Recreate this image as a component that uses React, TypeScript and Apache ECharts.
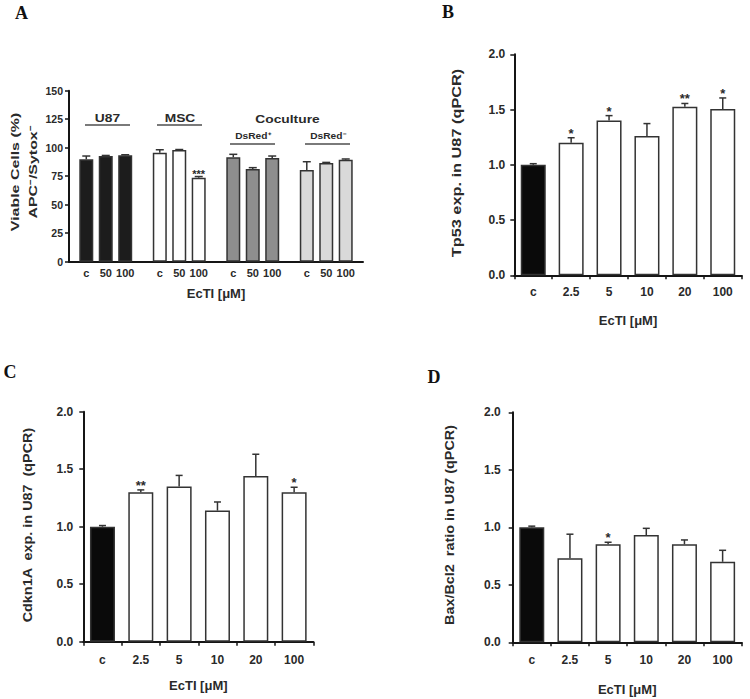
import React, { useEffect, useRef } from 'react';
import * as echarts from 'echarts';

// ---------- Panel A: viable cells ----------
const groupsA = ['U87', 'MSC', 'DsRed+', 'DsRed-'];
const dosesA = ['c', '50', '100'];
const viableC = [89.8, 95.6, 91.6, 80.4];
const viable50 = [92.7, 98.0, 81.3, 86.6];
const viable100 = [93.3, 73.7, 91.0, 89.5];
const viableErrC = [2.9, 2.6, 2.6, 7.3];
const viableErr50 = [0.5, 0.4, 1.2, 0.5];
const viableErr100 = [0.5, 1.0, 1.7, 0.6];
const viableStarsC = ['', '', '', ''];
const viableStars50 = ['', '', '', ''];
const viableStars100 = ['', '***', '', ''];
const yTicksA = { min: 0, max: 150, interval: 25 };

// ---------- Panels B-D: qPCR ----------
const dosesQ = ['c', '2.5', '5', '10', '20', '100'];
const tp53 = [1.0, 1.2, 1.4, 1.26, 1.525, 1.505];
const tp53Err = [0.01, 0.045, 0.045, 0.113, 0.03, 0.1];
const tp53Stars = ['', '*', '*', '', '**', '*'];
const cdkn1a = [1.0, 1.3, 1.35, 1.14, 1.44, 1.3];
const cdkn1aErr = [0.01, 0.02, 0.096, 0.075, 0.19, 0.043];
const cdkn1aStars = ['', '**', '', '', '', '*'];
const baxBcl2 = [1.0, 0.73, 0.852, 0.933, 0.852, 0.7];
const baxBcl2Err = [0.01, 0.21, 0.018, 0.058, 0.038, 0.1];
const baxBcl2Stars = ['', '', '*', '', '', ''];
const yTicksQ = { min: 0, max: 2, interval: 0.5 };

const FONT = "'Liberation Sans', Arial, Helvetica, sans-serif";
const SERIF = "'Liberation Serif', 'Times New Roman', serif";
const TEXT = '#2a2a2a';
const AXIS = '#151515';
const BORDER = '#333';
const groupColorsA = ['#1c1c1c', '#ffffff', '#8e8e8e', '#d9d9d9'];
const BAR_W_A = 14;
const GAP_A = 0.39;

function errorRenderer(offset: number, errs: number[], stars: string[], starSize: number, capHalf: number, starDy: number) {
  return (params: any, api: any) => {
    const idx = params.dataIndex;
    const cat = api.value(0);
    const v = api.value(1);
    const e = errs[idx];
    const p0 = api.coord([cat, v]);
    const p1 = api.coord([cat, v + e]);
    const x = p0[0] + offset;
    const children: any[] = [
      { type: 'line', shape: { x1: x, y1: p0[1], x2: x, y2: p1[1] }, style: { stroke: BORDER, lineWidth: 1.5 } },
      { type: 'line', shape: { x1: x - capHalf, y1: p1[1], x2: x + capHalf, y2: p1[1] }, style: { stroke: BORDER, lineWidth: 1.5 } },
    ];
    if (stars[idx]) {
      children.push({
        type: 'text',
        x,
        y: p1[1] + starDy,
        style: { text: stars[idx], fill: TEXT, font: `bold ${starSize}px ${FONT}`, align: 'center', verticalAlign: 'bottom' },
      });
    }
    return { type: 'group', children };
  };
}

function yAxisCommon(gridIndex: number, ticks: any, fontSize: number, margin: number, fmt?: (v: number) => string) {
  return {
    type: 'value',
    gridIndex,
    min: ticks.min,
    max: ticks.max,
    interval: ticks.interval,
    splitLine: { show: false },
    axisLine: { show: true, lineStyle: { color: AXIS, width: 2 } },
    axisTick: { show: true, length: 4, lineStyle: { color: AXIS, width: 1.5 } },
    axisLabel: {
      fontSize,
      fontWeight: 'bold',
      fontFamily: FONT,
      color: TEXT,
      margin,
      formatter: fmt ? fmt : (v: number) => String(v),
    },
  };
}

function xAxisQ(gridIndex: number, nameGap: number, margin: number) {
  return {
    type: 'category',
    gridIndex,
    data: dosesQ,
    axisLine: { show: true, lineStyle: { color: AXIS, width: 2 } },
    axisTick: { show: true, length: 4, lineStyle: { color: AXIS, width: 1.5 } },
    axisLabel: { fontSize: 12, fontWeight: 'bold', fontFamily: FONT, color: TEXT, margin },
    name: 'EcTI [μM]',
    nameLocation: 'middle',
    nameGap,
    nameTextStyle: { fontSize: 13, fontWeight: 'bold', fontFamily: FONT, color: TEXT },
  };
}

function qBarSeries(idx: number, vals: number[]) {
  return {
    type: 'bar',
    xAxisIndex: idx,
    yAxisIndex: idx,
    barWidth: 25,
    data: vals.map((v, i) => ({ value: v, itemStyle: { color: i === 0 ? '#0a0a0a' : '#ffffff' } })),
    itemStyle: { borderColor: BORDER, borderWidth: 1.5 },
    z: 2,
  };
}

function qErrSeries(idx: number, vals: number[], errs: number[], stars: string[]) {
  return {
    type: 'custom',
    xAxisIndex: idx,
    yAxisIndex: idx,
    renderItem: errorRenderer(0, errs, stars, 13, 3.5, 2),
    data: vals.map((v, i) => [i, v]),
    z: 3,
  };
}

function yName(text: string, x: number, y: number, fontSize: number, scaleX: number) {
  return {
    type: 'text',
    x,
    y,
    rotation: Math.PI / 2,
    scaleX,
    scaleY: 1,
    style: { text, fill: TEXT, font: `bold ${fontSize}px ${FONT}`, align: 'center', verticalAlign: 'middle', lineHeight: 18 },
  };
}

function letter(text: string, x: number, y: number) {
  return {
    type: 'text',
    x,
    y,
    style: { text, fill: '#111', font: `bold 18px ${SERIF}`, align: 'center', verticalAlign: 'middle' },
  };
}

function groupLabel(text: string, x: number, y: number, fontSize: number, scaleX: number) {
  return {
    type: 'text',
    x,
    y,
    scaleX,
    style: { text, fill: TEXT, font: `bold ${fontSize}px ${FONT}`, align: 'center', verticalAlign: 'middle' },
  };
}

function groupLine(x1: number, x2: number, y: number) {
  return { type: 'line', shape: { x1, y1: y, x2, y2: y }, style: { stroke: '#7a7a7a', lineWidth: 2 } };
}

function buildOption() {
  const valsA = [viableC, viable50, viable100];
  const errsA = [viableErrC, viableErr50, viableErr100];
  const starsA = [viableStarsC, viableStars50, viableStars100];
  const stepA = BAR_W_A * (1 + GAP_A);

  const seriesA: any[] = [];
  valsA.forEach((vals, k) => {
    seriesA.push({
      type: 'bar',
      name: dosesA[k],
      xAxisIndex: 0,
      yAxisIndex: 0,
      barWidth: BAR_W_A,
      barGap: `${GAP_A * 100}%`,
      data: vals.map((v, g) => ({ value: v, itemStyle: { color: groupColorsA[g] } })),
      itemStyle: { borderColor: BORDER, borderWidth: 1.5 },
      label: {
        show: true,
        position: 'bottom',
        distance: 6,
        formatter: dosesA[k],
        fontSize: 11,
        fontWeight: 'bold',
        fontFamily: FONT,
        color: TEXT,
      },
      z: 2,
    });
  });
  valsA.forEach((vals, k) => {
    seriesA.push({
      type: 'custom',
      xAxisIndex: 0,
      yAxisIndex: 0,
      renderItem: errorRenderer((k - 1) * stepA, errsA[k], starsA[k], 11, 4, 3),
      data: vals.map((v, i) => [i, v]),
      z: 3,
    });
  });

  return {
    animation: false,
    backgroundColor: '#ffffff',
    grid: [
      { left: 69, top: 90.7, width: 294, height: 171 },
      { left: 514.3, top: 54.3, width: 227.4, height: 221 },
      { left: 83.3, top: 411.7, width: 230, height: 230 },
      { left: 512.7, top: 412.3, width: 229, height: 230 },
    ],
    xAxis: [
      {
        type: 'category',
        gridIndex: 0,
        data: groupsA,
        axisLine: { show: true, lineStyle: { color: AXIS, width: 2 } },
        axisTick: { show: false },
        axisLabel: { show: false },
        name: 'EcTI [μM]',
        nameLocation: 'middle',
        nameGap: 25,
        nameTextStyle: { fontSize: 13, fontWeight: 'bold', fontFamily: FONT, color: TEXT },
      },
      xAxisQ(1, 39, 11),
      xAxisQ(2, 37, 12),
      xAxisQ(3, 41, 12),
    ],
    yAxis: [
      yAxisCommon(0, yTicksA, 10.5, 6),
      yAxisCommon(1, yTicksQ, 12, 9, (v: number) => v.toFixed(1)),
      yAxisCommon(2, yTicksQ, 12, 10, (v: number) => v.toFixed(1)),
      yAxisCommon(3, yTicksQ, 12, 12, (v: number) => v.toFixed(1)),
    ],
    series: [
      ...seriesA,
      qBarSeries(1, tp53),
      qErrSeries(1, tp53, tp53Err, tp53Stars),
      qBarSeries(2, cdkn1a),
      qErrSeries(2, cdkn1a, cdkn1aErr, cdkn1aStars),
      qBarSeries(3, baxBcl2),
      qErrSeries(3, baxBcl2, baxBcl2Err, baxBcl2Stars),
    ],
    graphic: [
      letter('A', 21.5, 12.5),
      letter('B', 448, 12),
      letter('C', 10, 371.5),
      letter('D', 434, 376.5),
      yName('Viable Cells (%)\nAPC⁻/Sytox⁻', 24, 172, 11, 1.45),
      yName('Tp53 exp. in U87 (qPCR)', 456.7, 163, 12, 1.36),
      yName('Cdkn1A  exp. in U87  (qPCR)', 28.3, 525, 12, 1.2),
      yName('Bax/Bcl2  ratio in U87 (qPCR)', 450, 525, 12, 1.2),
      groupLabel('U87', 107.5, 118, 11.5, 1.2),
      groupLine(85, 130, 125),
      groupLabel('MSC', 180, 118, 11.5, 1.2),
      groupLine(157, 202, 125),
      groupLabel('Coculture', 287.5, 119, 11.5, 1.2),
      groupLabel('DsRed⁺', 253, 136, 8.5, 1.2),
      groupLine(230, 275, 144),
      groupLabel('DsRed⁻', 328, 136, 8.5, 1.2),
      groupLine(305, 350, 144),
    ],
  };
}

export default function App() {
  const ref = useRef<HTMLDivElement>(null);
  useEffect(() => {
    if (!ref.current) return;
    const chart = echarts.init(ref.current, undefined, { renderer: 'svg' });
    chart.setOption(buildOption() as any);
    return () => chart.dispose();
  }, []);
  return (
    <div
      ref={ref}
      style={{ position: 'fixed', left: 0, top: 0, width: 750, height: 699, background: '#fff' }}
    />
  );
}
